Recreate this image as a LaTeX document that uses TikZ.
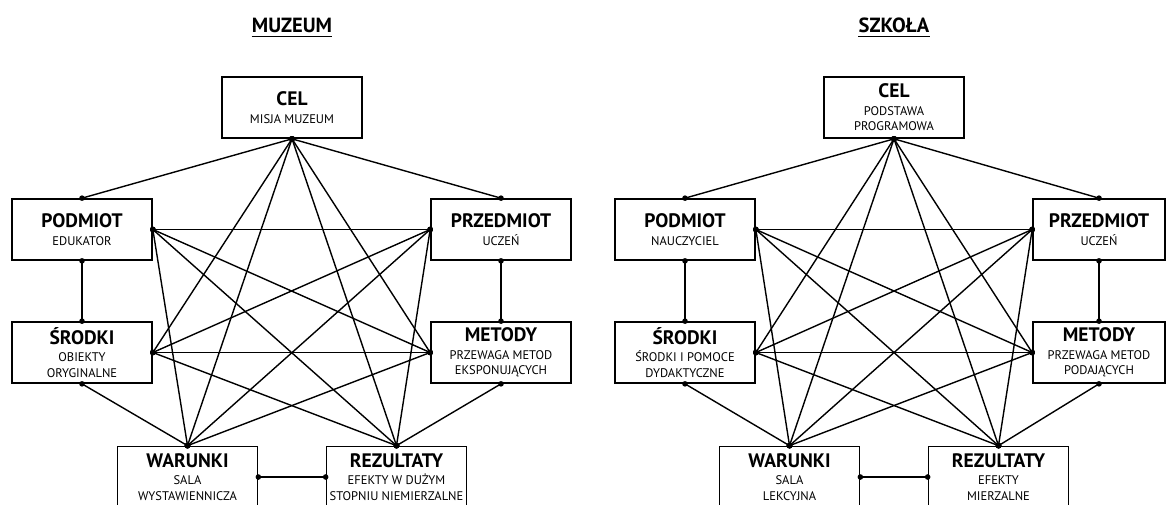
\documentclass[tikz,border=0pt]{standalone}
\usepackage{fontspec}
\setmainfont{PT Sans}
\usetikzlibrary{positioning}

\begin{document}
\begin{tikzpicture}[x=1pt,y=-1pt,
  box/.style={draw,line width=1.7pt,minimum width=140pt,minimum height=61pt,inner sep=2pt,align=center,font=\fontsize{12.5}{15.5}\selectfont},
  head/.style={font=\fontsize{20.5}{22}\selectfont\bfseries},
  link/.style={line width=1.4pt}]
  \useasboundingbox (0,0) rectangle (1166,504);
  \node[head,inner sep=0pt,anchor=base](mtitle) at (292,32){MUZEUM};
  \node[head,inner sep=0pt,anchor=base](stitle) at (894,32){SZKOŁA};
  \draw[line width=1.5pt] ([yshift=-4.5pt]mtitle.base west) -- ([yshift=-4.5pt]mtitle.base east);
  \draw[line width=1.5pt] ([yshift=-4.5pt]stitle.base west) -- ([yshift=-4.5pt]stitle.base east);

  \node[box](mcel) at (292,107.5){{\fontsize{19.5}{20}\selectfont\bfseries CEL}\\[2pt]MISJA MUZEUM};
  \node[box](mpod) at (82,229.5){{\fontsize{19.5}{20}\selectfont\bfseries PODMIOT}\\[2pt]EDUKATOR};
  \node[box](mprz) at (501,229.5){{\fontsize{19.5}{20}\selectfont\bfseries PRZEDMIOT}\\[2pt]UCZEŃ};
  \node[box](msro) at (82,352.5){{\fontsize{19.5}{20}\selectfont\bfseries ŚRODKI}\\[2pt]OBIEKTY\\ORYGINALNE};
  \node[box](mmet) at (501,352.5){{\fontsize{19.5}{20}\selectfont\bfseries METODY}\\[2pt]PRZEWAGA METOD\\EKSPONUJĄCYCH};
  \node[box](mwar) at (187.5,477){{\fontsize{19.5}{20}\selectfont\bfseries WARUNKI}\\[2pt]SALA\\WYSTAWIENNICZA};
  \node[box](mrez) at (396.5,477){{\fontsize{19.5}{20}\selectfont\bfseries REZULTATY}\\[2pt]EFEKTY W DUŻYM\\STOPNIU NIEMIERZALNE};

  \node[box](scel) at (894,107.5){{\fontsize{19.5}{20}\selectfont\bfseries CEL}\\[2pt]PODSTAWA\\PROGRAMOWA};
  \node[box](spod) at (685,229.5){{\fontsize{19.5}{20}\selectfont\bfseries PODMIOT}\\[2pt]NAUCZYCIEL};
  \node[box,minimum width=132pt](sprz) at (1099,229.5){{\fontsize{19.5}{20}\selectfont\bfseries PRZEDMIOT}\\[2pt]UCZEŃ};
  \node[box](ssro) at (685,352.5){{\fontsize{19.5}{20}\selectfont\bfseries ŚRODKI}\\[2pt]ŚRODKI I POMOCE\\DYDAKTYCZNE};
  \node[box,minimum width=132pt](smet) at (1099,352.5){{\fontsize{19.5}{20}\selectfont\bfseries METODY}\\[2pt]PRZEWAGA METOD\\PODAJĄCYCH};
  \node[box](swar) at (789.5,477){{\fontsize{19.5}{20}\selectfont\bfseries WARUNKI}\\[2pt]SALA\\LEKCYJNA};
  \node[box](srez) at (998.5,477){{\fontsize{19.5}{20}\selectfont\bfseries REZULTATY}\\[2pt]EFEKTY\\MIERZALNE};

  \foreach \s in {m,s}
    \foreach \a/\b in {cel.south/pod.north,cel.south/prz.north,cel.south/sro.east,cel.south/met.west,
        cel.south/war.north,cel.south/rez.north,pod.east/prz.west,pod.south/sro.north,pod.east/met.west,
        pod.east/war.north,pod.east/rez.north,prz.west/sro.east,prz.south/met.north,prz.west/war.north,
        prz.west/rez.north,sro.east/met.west,sro.south/war.north,sro.east/rez.north,met.west/war.north,
        met.south/rez.north,war.east/rez.west}{
      \draw[link] (\s\a) -- (\s\b);
      \fill (\s\a) circle[radius=2.8pt] (\s\b) circle[radius=2.8pt];
    }
\end{tikzpicture}
\end{document}
